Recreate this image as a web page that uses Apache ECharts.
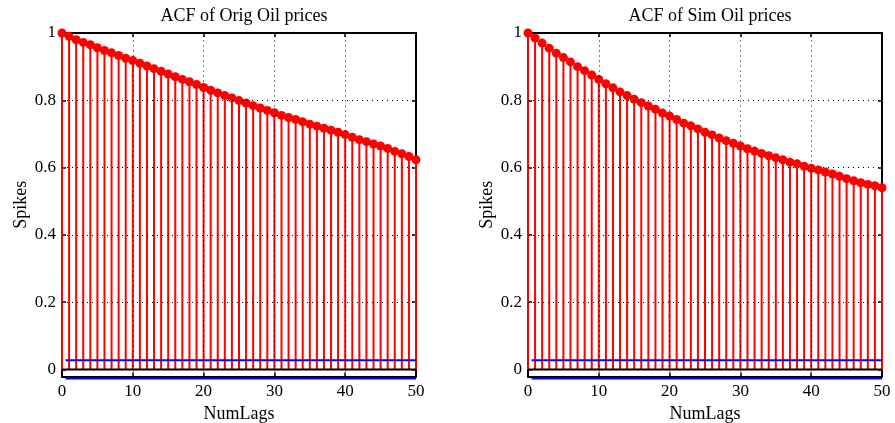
<!DOCTYPE html>
<html><head><meta charset="utf-8">
<script src="https://cdn.jsdelivr.net/npm/echarts@6/dist/echarts.min.js"></script>
<style>html,body{margin:0;padding:0;background:#fff}#c{width:895px;height:423px}</style>
</head><body><div id="c"></div><script>
const lags = Array.from({length: 51}, (_, i) => i);
const origAcf = [1.000, 0.990, 0.980, 0.972, 0.965, 0.956, 0.948, 0.941, 0.933, 0.925,
  0.918, 0.910, 0.902, 0.894, 0.886, 0.878, 0.870, 0.862, 0.855, 0.847,
  0.838, 0.830, 0.822, 0.814, 0.807, 0.799, 0.792, 0.784, 0.777, 0.770,
  0.763, 0.755, 0.749, 0.743, 0.736, 0.729, 0.723, 0.717, 0.711, 0.705,
  0.698, 0.690, 0.683, 0.677, 0.670, 0.664, 0.657, 0.648, 0.641, 0.633, 0.623];
const simAcf = [1.000, 0.985, 0.970, 0.955, 0.940, 0.927, 0.914, 0.900, 0.888, 0.875,
  0.862, 0.849, 0.837, 0.825, 0.814, 0.803, 0.793, 0.783, 0.773, 0.762,
  0.753, 0.743, 0.732, 0.724, 0.715, 0.705, 0.697, 0.688, 0.680, 0.672,
  0.664, 0.656, 0.649, 0.642, 0.635, 0.629, 0.623, 0.616, 0.611, 0.604,
  0.598, 0.593, 0.587, 0.581, 0.574, 0.567, 0.561, 0.555, 0.550, 0.546, 0.540];
const confBound = 0.027;
const boundStartLag = 0.5;
const yMin = -0.021, yMax = 1;
const yTicks = [0, 0.2, 0.4, 0.6, 0.8, 1];
const yGrid = [0.2, 0.4, 0.6, 0.8];
const xGrid = [10, 20, 30, 40];
const titles = ['ACF of Orig Oil prices', 'ACF of Sim Oil prices'];
const xName = 'NumLags';
const yName = 'Spikes';

const FONT = 'Liberation Serif';
const FS = 17, FS_NAME = 18;
const panels = [origAcf, simAcf];
const gridLefts = [62, 528];
const grids = [], xAxes = [], yAxes = [], series = [], titleOpts = [];
panels.forEach((vals, g) => {
  grids.push({left: gridLefts[g], width: 354, top: 33, height: 343.5,
    containLabel: false, outerBoundsMode: 'none'});
  titleOpts.push({text: titles[g], left: gridLefts[g] + 177, top: 2, textAlign: 'center',
    textStyle: {fontFamily: FONT, fontSize: FS_NAME, fontWeight: 'normal', color: '#000'}});
  const axLine = {show: true, onZero: false, lineStyle: {color: '#000', width: 2}};
  const tick = {show: true, inside: true, length: 4, lineStyle: {color: '#000', width: 1.5}};
  xAxes.push({gridIndex: g, type: 'value', position: 'bottom', min: 0, max: 50, interval: 10,
    axisLine: axLine, axisTick: tick, splitLine: {show: false},
    axisLabel: {fontFamily: FONT, fontSize: FS, color: '#000', margin: 7},
    name: xName, nameLocation: 'middle', nameGap: 26,
    nameTextStyle: {fontFamily: FONT, fontSize: FS_NAME, color: '#000'}});
  xAxes.push({gridIndex: g, type: 'value', position: 'top', min: 0, max: 50, interval: 10,
    axisLine: axLine, axisTick: tick, splitLine: {show: false}, axisLabel: {show: false}});
  yAxes.push({gridIndex: g, type: 'value', position: 'left', min: yMin, max: yMax,
    axisLine: axLine, axisTick: Object.assign({customValues: yTicks}, tick), splitLine: {show: false},
    axisLabel: {customValues: yTicks, fontFamily: FONT, fontSize: FS, color: '#000', margin: 6},
    name: yName, nameLocation: 'middle', nameGap: 32,
    nameTextStyle: {fontFamily: FONT, fontSize: FS_NAME, color: '#000'}});
  yAxes.push({gridIndex: g, type: 'value', position: 'right', min: yMin, max: yMax,
    axisLine: axLine, axisTick: Object.assign({customValues: yTicks}, tick), splitLine: {show: false},
    axisLabel: {show: false}});
  const xi = 2 * g, yi = 2 * g;
  const pts = lags.map((l, i) => [l, vals[i]]);
  const lastLag = lags[lags.length - 1];
  series.push({type: 'line', xAxisIndex: xi, yAxisIndex: yi, data: [], silent: true, z: 1,
    markLine: {silent: true, symbol: ['none', 'none'], label: {show: false},
      lineStyle: {type: [1, 4], color: '#000', width: 1},
      data: yGrid.map(v => ({yAxis: v})).concat(xGrid.map(v => ({xAxis: v})))}});
  series.push({type: 'bar', xAxisIndex: xi, yAxisIndex: yi, data: pts, barWidth: 2, silent: true,
    itemStyle: {color: '#ff0000'}, z: 3});
  series.push({type: 'scatter', xAxisIndex: xi, yAxisIndex: yi, data: pts, symbolSize: 9,
    itemStyle: {color: '#ff0000', opacity: 1}, clip: false, silent: true, z: 4});
  series.push({type: 'line', xAxisIndex: xi, yAxisIndex: yi, data: [[lags[0], 0], [lastLag, 0]],
    symbol: 'none', lineStyle: {color: '#000', width: 2}, silent: true, z: 5});
  series.push({type: 'line', xAxisIndex: xi, yAxisIndex: yi,
    data: [[boundStartLag, confBound], [lastLag, confBound]],
    symbol: 'none', lineStyle: {color: '#0000ff', width: 2}, silent: true, z: 5});
  series.push({type: 'line', xAxisIndex: xi, yAxisIndex: yi, clip: false,
    data: [[boundStartLag, -confBound], [lastLag, -confBound]],
    symbol: 'none', lineStyle: {color: '#0000ff', width: 2}, silent: true, z: 5});
});
const chart = echarts.init(document.getElementById('c'), null, {renderer: 'canvas'});
chart.setOption({animation: false, backgroundColor: '#fff', title: titleOpts,
  grid: grids, xAxis: xAxes, yAxis: yAxes, series: series});
</script></body></html>
